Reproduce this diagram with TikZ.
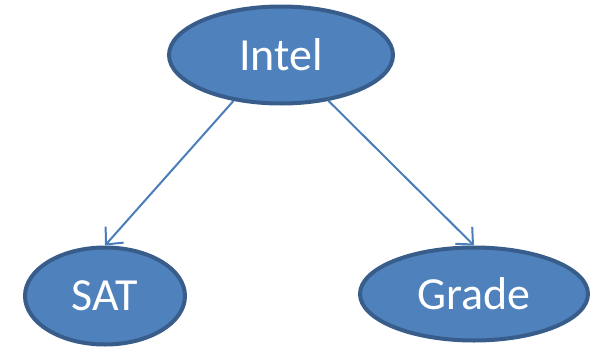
\documentclass[tikz,border=0pt]{standalone}
\usepackage{fontspec}
\setmainfont{Carlito}
\usetikzlibrary{shapes.geometric,arrows.meta}
\definecolor{nodefill}{HTML}{4F81BD}
\definecolor{nodeline}{HTML}{385D8A}
\definecolor{edgeline}{HTML}{4A7EBB}
\begin{document}
\begin{tikzpicture}
  [x=1pt,y=-1pt,every node/.style={ellipse,draw=nodeline,fill=nodefill,line width=4pt,
   text=white,inner sep=0pt,font=\fontsize{46}{50}\selectfont}]
  \useasboundingbox (0,0) rectangle (591,348);
  \node[minimum width=224pt,minimum height=97pt] (intel) at (281,55) {Intel};
  \node[minimum width=160pt,minimum height=97pt] (sat) at (105,296) {SAT};
  \node[minimum width=228pt,minimum height=93pt] (grade) at (474,294) {Grade};
  \foreach \from/\to in {intel.224/sat.north, intel.316/grade.north}
    \draw [edgeline,line width=2pt,-{Straight Barb[length=13pt,width=24pt,line width=2pt]}] (\from) -- (\to);
\end{tikzpicture}
\end{document}
